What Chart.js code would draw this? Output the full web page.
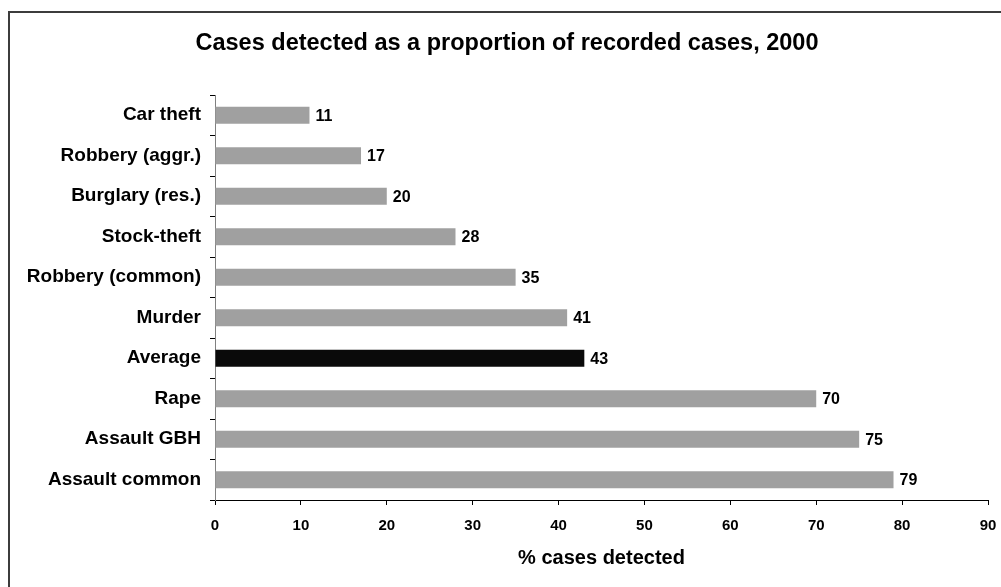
<!DOCTYPE html>
<html>
<head>
<meta charset="utf-8">
<script src="https://cdn.jsdelivr.net/npm/chart.js@4/dist/chart.umd.min.js"></script>
<style>
	html, body { margin: 0; padding: 0; background: #fff; overflow: hidden; }
	#wrap { position: relative; width: 1001px; height: 587px; }
	#frame {
		position: absolute; left: 8px; top: 11px; width: 1100px; height: 700px;
		border: 2px solid #3c3c3c; box-sizing: border-box;
	}
	#chart { position: absolute; left: 0; top: 0; }
</style>
</head>
<body>
<div id="wrap">
	<div id="frame"></div>
	<canvas id="chart" width="1001" height="587"></canvas>
</div>
<script>
const categories = ['Car theft', 'Robbery (aggr.)', 'Burglary (res.)', 'Stock-theft', 'Robbery (common)',
	'Murder', 'Average', 'Rape', 'Assault GBH', 'Assault common'];
const detected = [11, 17, 20, 28, 35, 41, 43, 70, 75, 79];
const xTicks = [0, 10, 20, 30, 40, 50, 60, 70, 80, 90];

const titleText = 'Cases detected as a proportion of recorded cases, 2000';
const axisTitle = '% cases detected';
const FONT = 'Arial, "Liberation Sans", Helvetica, sans-serif';

// bar colours: the average gets picked out in black
const barColours = categories.map(c => c === 'Average' ? '#0a0a0a' : '#a0a0a0');

const headline = {
	id: 'headline',
	afterDraw (chart) {
		const ctx = chart.ctx;
		ctx.save();
		ctx.font = 'bold 23.5px ' + FONT;
		ctx.fillStyle = '#000';
		ctx.textAlign = 'center';
		ctx.textBaseline = 'middle';
		ctx.fillText(titleText, 507, 44);
		ctx.restore();
	}
};

const valueLabels = {
	id: 'valueLabels',
	afterDatasetsDraw (chart) {
		const ctx = chart.ctx;
		const meta = chart.getDatasetMeta(0);
		ctx.save();
		ctx.font = 'bold 16px ' + FONT;
		ctx.fillStyle = '#000';
		ctx.textAlign = 'left';
		ctx.textBaseline = 'middle';
		meta.data.forEach((bar, i) => {
			ctx.fillText(String(detected[i]), bar.x + 6, bar.y + 1);
		});
		ctx.restore();
	}
};

new Chart('chart', {
	type: 'bar',
	data: {
		labels: categories,
		datasets: [{
			data: detected,
			backgroundColor: barColours,
			borderWidth: 0,
			barPercentage: 0.84,
			categoryPercentage: 0.5,
		}],
	},
	options: {
		indexAxis: 'y',
		responsive: false,
		animation: false,
		layout: { padding: { top: 95, right: 13, left: 0, bottom: 0 } },
		plugins: {
			legend: { display: false },
			tooltip: { enabled: false },
		},
		scales: {
			x: {
				min: 0,
				max: 90,
				afterBuildTicks (scale) {
					scale.ticks = xTicks.map(v => ({ value: v }));
				},
				afterFit (scale) {
					scale.height = 87;
					scale.paddingLeft = 0;
					scale.paddingRight = 0;
				},
				border: { display: true, color: '#000', width: 1 },
				grid: { drawOnChartArea: false, drawTicks: true, tickLength: 5, color: '#000' },
				ticks: {
					color: '#000',
					padding: 12,
					maxRotation: 0,
					font: { family: FONT, size: 15, weight: 'bold' },
				},
				title: {
					display: true,
					text: axisTitle,
					color: '#000',
					padding: { top: 0, bottom: 17 },
					font: { family: FONT, size: 20, weight: 'bold' },
				},
			},
			y: {
				afterFit (scale) { scale.width = 215; },
				border: { display: true, color: '#808080', width: 1 },
				grid: { offset: true, drawOnChartArea: false, drawTicks: true, tickLength: 5, color: '#000' },
				ticks: {
					color: '#000',
					padding: 9,
					autoSkip: false,
					font: { family: FONT, size: 19, weight: 'bold' },
				},
			},
		},
	},
	plugins: [headline, valueLabels],
});
</script>
</body>
</html>
